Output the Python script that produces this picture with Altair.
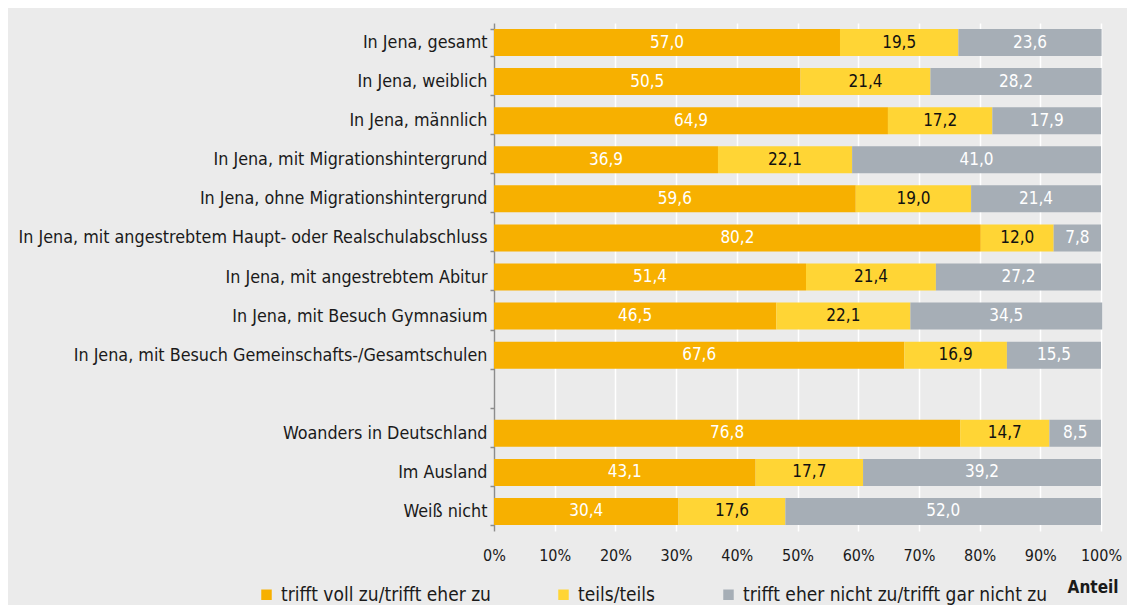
import altair as alt
import pandas as pd

categories = [
    "In Jena, gesamt",
    "In Jena, weiblich",
    "In Jena, männlich",
    "In Jena, mit Migrationshintergrund",
    "In Jena, ohne Migrationshintergrund",
    "In Jena, mit angestrebtem Haupt- oder Realschulabschluss",
    "In Jena, mit angestrebtem Abitur",
    "In Jena, mit Besuch Gymnasium",
    "In Jena, mit Besuch Gemeinschafts-/Gesamtschulen",
    "Woanders in Deutschland",
    "Im Ausland",
    "Weiß nicht",
]
spacer = " "
axis_order = categories[:9] + [spacer] + categories[9:]

series = [
    "trifft voll zu/trifft eher zu",
    "teils/teils",
    "trifft eher nicht zu/trifft gar nicht zu",
]
colors = ["#F7B000", "#FFD535", "#A6AEB6"]

# printed values
voll = [57.0, 50.5, 64.9, 36.9, 59.6, 80.2, 51.4, 46.5, 67.6, 76.8, 43.1, 30.4]
teils = [19.5, 21.4, 17.2, 22.1, 19.0, 12.0, 21.4, 22.1, 16.9, 14.7, 17.7, 17.6]
nicht = [23.6, 28.2, 17.9, 41.0, 21.4, 7.8, 27.2, 34.5, 15.5, 8.5, 39.2, 52.0]
# drawn length of the grey segment as seen in the source picture
nicht_drawn = [23.6, 28.2, 17.9, 41.0, 21.4, 7.8, 27.2, 31.6, 15.5, 8.5, 39.2, 52.0]

rows = []
for i, c in enumerate(categories):
    for k, (vals, lens) in enumerate([(voll, voll), (teils, teils), (nicht, nicht_drawn)]):
        rows.append({"cat": c, "series": series[k], "order": k,
                     "value": vals[i], "length": lens[i]})
df = pd.DataFrame(rows)

FONT = "DejaVu Sans Condensed"

base = alt.Chart(df).transform_window(
    cum="sum(length)", groupby=["cat"], sort=[alt.SortField("order")],
    frame=[None, 0]
).transform_calculate(
    start="datum.cum - datum.length",
    mid="datum.cum - datum.length / 2",
    label="replace(format(datum.value, '.1f'), '.', ',')",
)

y_enc = alt.Y(
    "cat:N",
    sort=axis_order,
    scale=alt.Scale(domain=axis_order, paddingInner=0.31, paddingOuter=0.155),
    axis=alt.Axis(
        title=None, tickBand="extent", grid=False,
        domainColor="#8C8C8C", domainWidth=1.5,
        tickColor="#8C8C8C", tickWidth=1.5, tickSize=4,
        labelFont=FONT, labelFontSize=17.8, labelColor="#1A1A1A", labelPadding=3,
        labelLimit=600,
    ),
)

bars = base.mark_bar(size=27).encode(
    x=alt.X(
        "start:Q",
        scale=alt.Scale(domain=[0, 100]),
        axis=alt.Axis(
            values=list(range(0, 101, 10)), labelExpr="datum.value + '%'",
            grid=True, gridColor="#FFFFFF", gridWidth=1.5,
            domain=False, ticks=False, labelFlush=False,
            labelFont=FONT, labelFontSize=16, labelColor="#1A1A1A", labelPadding=16,
            title="Anteil", titleFont=FONT, titleFontSize=17, titleFontWeight="bold",
            titleColor="#1A1A1A", titleAnchor="end", titleAlign="right",
            titleX=624, titleY=56, titleBaseline="middle",
        ),
    ),
    x2="cum:Q",
    y=y_enc,
    color=alt.Color(
        "series:N",
        scale=alt.Scale(domain=series, range=colors),
        legend=alt.Legend(
            title=None, orient="none", legendX=-237, legendY=562,
            direction="horizontal", symbolType="square", symbolSize=110,
            symbolStrokeWidth=0, labelFont=FONT, labelFontSize=19,
            labelColor="#1A1A1A", columnPadding=63, labelOffset=5,
            labelLimit=400,
        ),
    ),
    order=alt.Order("order:Q"),
)

texts = base.mark_text(font=FONT, fontSize=17, baseline="middle").encode(
    x="mid:Q",
    y=alt.Y("cat:N", sort=axis_order),
    text="label:N",
    color=alt.condition(
        alt.datum.series == "teils/teils", alt.value("#111111"), alt.value("#FFFFFF")
    ),
)

chart = alt.layer(bars, texts).properties(
    width=607, height=508,
    autosize=alt.AutoSizeParams(type="none"),
    padding={"left": 486, "top": 15, "right": 26, "bottom": 74},
    background="#EBEBEB",
).configure_view(stroke=None)

chart.save("out.html", embed_options={"renderer": "svg", "actions": False})
